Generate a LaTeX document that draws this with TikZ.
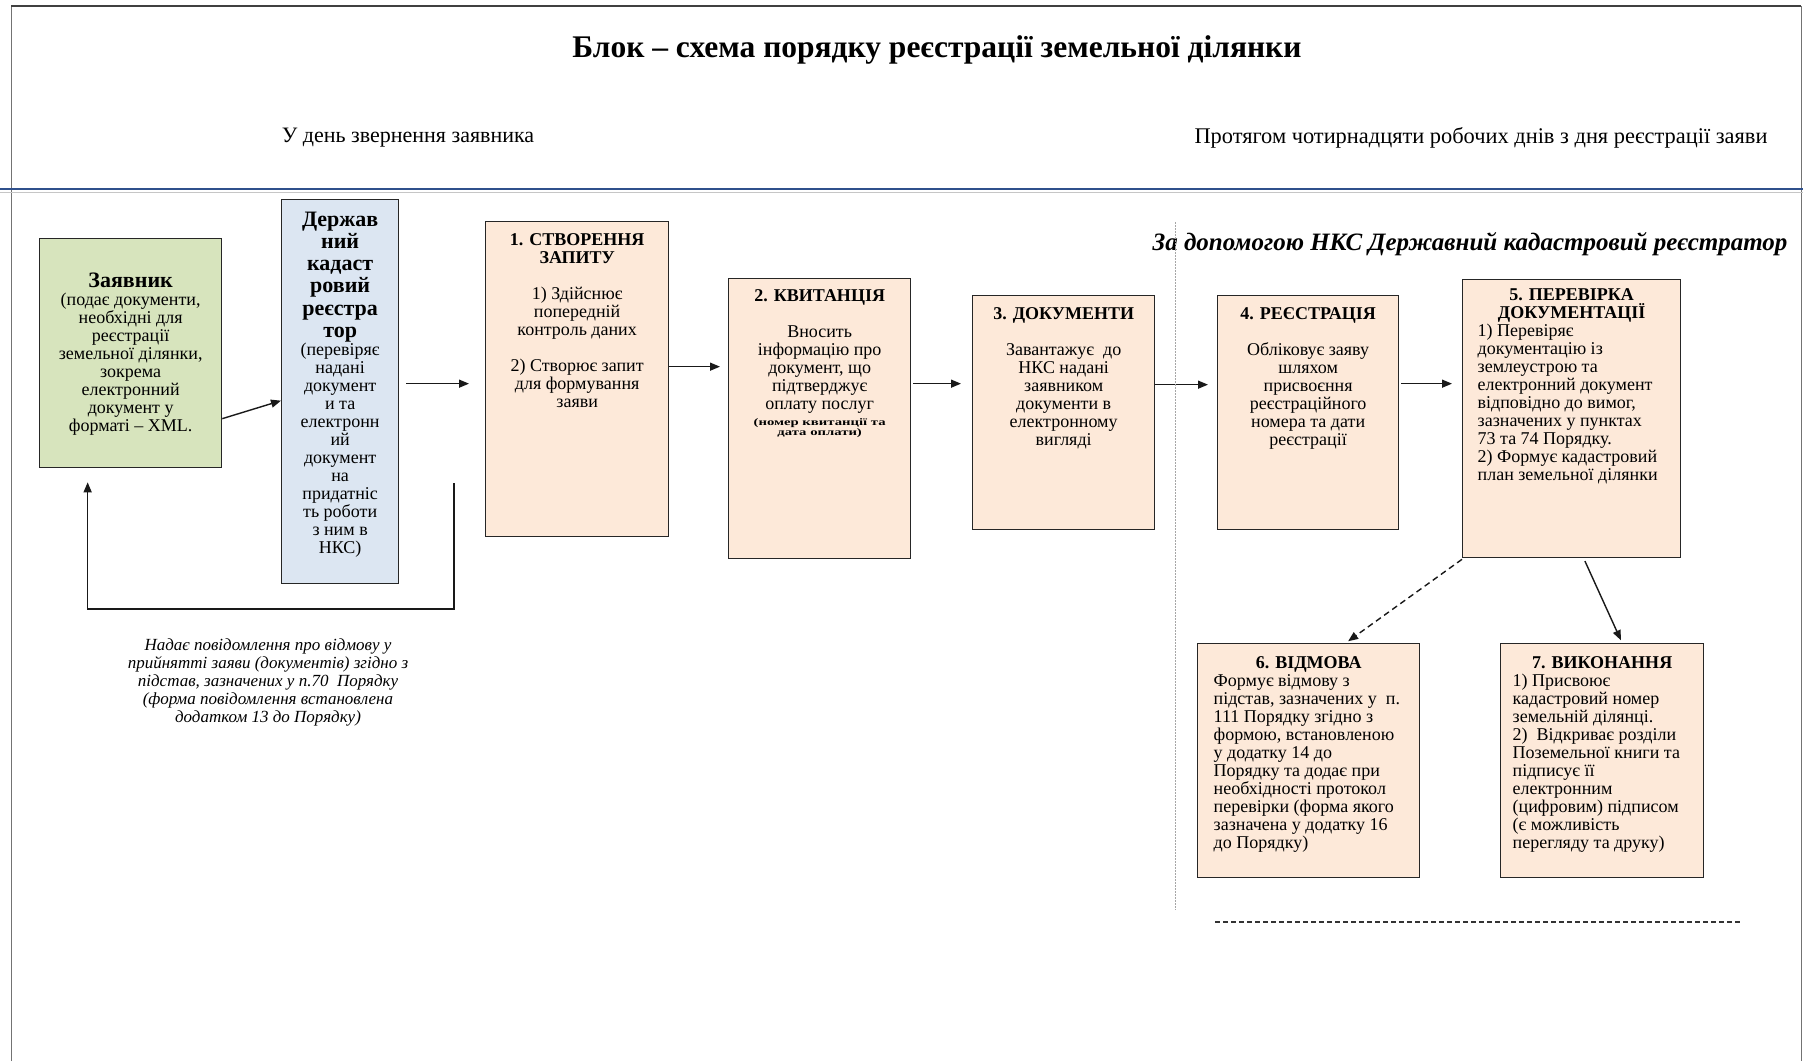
\documentclass[tikz,border=0pt]{standalone}
\usepackage{fontspec}
\setmainfont{Liberation Serif}
\usepackage{graphicx}
\usetikzlibrary{arrows.meta,calc}
\definecolor{peach}{RGB}{253,233,217}
\definecolor{leafgreen}{RGB}{215,228,189}
\definecolor{paleblue}{RGB}{220,230,242}
\definecolor{ruleblue}{RGB}{47,80,140}
\newcommand{\boxtext}[4]{\parbox[t][#2][t]{#1}{\vspace*{#3}#4}}

\begin{document}
\begin{tikzpicture}[x=1pt, y=-1pt, font={\fontsize{18}{18}\selectfont},
>={Triangle[length=10pt, width=8pt]},
stage/.style={rectangle, draw=black!85, line width=1.3pt, fill=peach, anchor=north west, inner sep=0pt},
flow/.style={->, line width=1.4pt, black!90},
frame/.style={line width=1pt, black!55}]
 \useasboundingbox (0,0) rectangle (1803,1061);
 \draw[frame] (11,1061) -- (11,6) -- (1801,6) -- (1801,1061);
 \draw[black!75, line width=1.4pt] (11,6) -- (1801,6);
 \draw[ruleblue, line width=1.6pt] (0,189) -- (1803,189);
 \draw[gray!45, line width=0.6pt] (0,192.5) -- (1803,192.5);

 \node[font={\fontsize{31.5}{33}\selectfont\bfseries}] (title) at (937,50) {Блок – схема порядку реєстрації земельної ділянки};
 \node[font={\fontsize{22}{24}\selectfont}] (daytext) at (408,138) {У день звернення заявника};
 \node[font={\fontsize{22.4}{24}\selectfont}] (periodtext) at (1481,138) {Протягом чотирнадцяти робочих днів з дня реєстрації заяви};
 \node[font={\fontsize{25}{28}\selectfont\bfseries\itshape}] (nkstext) at (1470,244) {За допомогою НКС Державний кадастровий реєстратор};

 \node[stage, fill=leafgreen] (applicant) at (39,238) {\boxtext{182pt}{229pt}{34pt}{\centering{\fontsize{22}{18}\selectfont\bfseries Заявник}\\(подає документи,\\необхідні для\\реєстрації\\земельної ділянки,\\зокрема\\електронний\\документ у\\форматі – XML.}};
 \node[stage, fill=paleblue] (registrar) at (281,199) {\boxtext{117pt}{384pt}{12pt}{\centering{\fontsize{22}{22.3}\selectfont\bfseries Держав\\ний\\кадаст\\ровий\\реєстра\\тор\par}(перевіряє\\надані\\документ\\и та\\електронн\\ий\\документ\\на\\придатніс\\ть роботи\\з ним в\\НКС)}};
 \node[stage] (request) at (485,221) {\boxtext{183pt}{315pt}{12pt}{\centering\textbf{1. СТВОРЕННЯ\\ЗАПИТУ}\\[18pt]1) Здійснює\\попередній\\контроль даних\\[18pt]2) Створює запит\\для формування\\заяви}};
 \node[stage] (receipt) at (728,278) {\boxtext{182pt}{280pt}{11pt}{\centering\textbf{2. КВИТАНЦІЯ}\\[18pt]Вносить\\інформацію про\\документ, що\\підтверджує\\оплату послуг\par\vspace{4pt}{\fontsize{10}{10}\selectfont\bfseries\scalebox{1.47}[1]{(номер квитанції та}\\\scalebox{1.47}[1]{дата оплати)}\par}}};
 \node[stage] (docs) at (972,295) {\boxtext{182pt}{234pt}{12pt}{\centering\textbf{3. ДОКУМЕНТИ}\\[18pt]Завантажує\ \ до\\НКС надані\\заявником\\документи в\\електронному\\вигляді}};
 \node[stage] (registration) at (1217,295) {\boxtext{181pt}{234pt}{12pt}{\centering\textbf{4. РЕЄСТРАЦІЯ}\\[18pt]Обліковує заяву\\шляхом\\присвоєння\\реєстраційного\\номера та дати\\реєстрації}};
 \node[stage] (check) at (1462,279) {\boxtext{218pt}{278pt}{9pt}{{\centering\bfseries 5. ПЕРЕВІРКА\\ДОКУМЕНТАЦІЇ\par}\raggedright\leftskip=15pt 1) Перевіряє\\документацію із\\землеустрою та\\електронний документ\\відповідно до вимог,\\зазначених у пунктах\\73 та 74 Порядку.\\2) Формує кадастровий\\план земельної ділянки}};
 \node[stage] (refusal) at (1197,643) {\boxtext{222pt}{234pt}{13pt}{{\centering\bfseries 6. ВІДМОВА\par}\raggedright\leftskip=16pt Формує відмову з\\підстав, зазначених у\ \ п.\\111 Порядку згідно з\\формою, встановленою\\у додатку 14 до\\Порядку та додає при\\необхідності протокол\\перевірки (форма якого\\зазначена у додатку 16\\до Порядку)}};
 \node[stage] (execution) at (1500,643) {\boxtext{203pt}{234pt}{13pt}{{\centering\bfseries 7. ВИКОНАННЯ\par}\raggedright\leftskip=12pt 1) Присвоює\\кадастровий номер\\земельній ділянці.\\2)\ \ Відкриває розділи\\Поземельної книги та\\підписує її\\електронним\\(цифровим) підписом\\(є можливість\\перегляду та друку)}};

 \node[align=center, font={\fontsize{17}{18}\selectfont\itshape}] (notice) at (268,682) {Надає повідомлення про відмову у\\прийнятті заяви (документів) згідно з\\підстав, зазначених у п.70\ \ Порядку\\(форма повідомлення встановлена\\додатком 13 до Порядку)};
 \coordinate (backstart) at (454,483);

 \draw[flow] ($(applicant.east)+(0,65.5)$) -- ($(registrar.west)+(0,9)$);
 \draw[flow, shorten <=7pt, shorten >=16pt] ($(registrar.east)+(0,-8)$) -- ($(request.west)+(0,4.5)$);
 \draw[flow, shorten >=8pt] ($(request.east)+(0,-12.5)$) -- ($(receipt.west)+(0,-52)$);
 \draw[flow, shorten <=2pt, shorten >=11pt] ($(receipt.east)+(0,-35)$) -- ($(docs.west)+(0,-29)$);
 \draw[flow, shorten >=9pt] ($(docs.east)+(0,-28)$) -- ($(registration.west)+(0,-28)$);
 \draw[flow, shorten <=2pt, shorten >=10pt] ($(registration.east)+(0,-29)$) -- ($(check.west)+(0,-35)$);
 \draw[flow, dash pattern=on 6pt off 4pt, shorten >=3pt] ($(check.south west)+(0,1)$) -- ($(refusal.north)+(37,0)$);
 \draw[flow, shorten <=3pt, shorten >=3pt] ($(check.south)+(12,0)$) -- ($(execution.north)+(20,0)$);
 \draw[flow, shorten >=14pt] (backstart) -- ++(0,126) -| ($(applicant.south)+(-43,0)$);

 \draw[gray!70, line width=0.8pt, dash pattern=on 1.5pt off 1.5pt] (1175,222) -- (1175,910);
 \draw[black!80, line width=1.5pt, dash pattern=on 5pt off 3pt] (1215,922) -- (1740,922);
\end{tikzpicture}
\end{document}
